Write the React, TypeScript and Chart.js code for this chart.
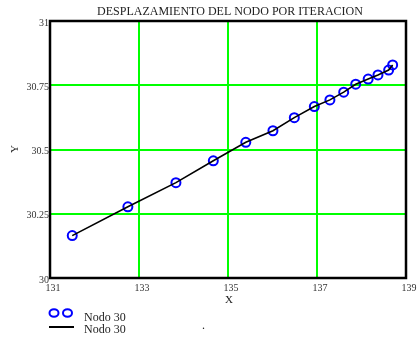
import React, { useEffect, useRef } from "react";
import { Chart, registerables } from "chart.js";

Chart.register(...registerables);

const chartTitle = "DESPLAZAMIENTO DEL NODO POR ITERACION";
const xAxisTitle = "X";
const yAxisTitle = "Y";
const seriesName = "Nodo 30";

const xValues = [131.5, 132.75, 133.83, 134.67, 135.4, 136.01, 136.49, 136.94, 137.29, 137.6, 137.87, 138.15, 138.37, 138.61, 138.7];
const yValues = [30.165, 30.277, 30.371, 30.456, 30.528, 30.573, 30.624, 30.667, 30.693, 30.723, 30.754, 30.774, 30.79, 30.809, 30.829];

const xTicks = [131, 133, 135, 137, 139];
const yTicks = [30, 30.25, 30.5, 30.75, 31];
const yTickLabels = ["30", "30.25", "30.5", "30.75", "31"];

const SERIF = "'Liberation Serif', 'Times New Roman', serif";

const extrasPlugin = {
  id: "extras",
  afterDraw(chart: any) {
    const ctx = chart.ctx as CanvasRenderingContext2D;
    const { left, right, top, bottom } = chart.chartArea;
    ctx.save();
    // plot border
    ctx.strokeStyle = "#000";
    ctx.lineWidth = 2.5;
    ctx.strokeRect(left, top, right - left, bottom - top);

    // title
    ctx.fillStyle = "#222";
    ctx.font = `12px ${SERIF}`;
    ctx.textAlign = "center";
    ctx.textBaseline = "alphabetic";
    ctx.fillText(chartTitle, 230, 15);

    // x axis title
    ctx.font = `11px ${SERIF}`;
    ctx.fillText(xAxisTitle, 229, 303);

    // y axis title
    ctx.save();
    ctx.translate(18, 149);
    ctx.rotate(-Math.PI / 2);
    ctx.textBaseline = "alphabetic";
    ctx.fillText(yAxisTitle, 0, 0);
    ctx.restore();

    // legend
    ctx.strokeStyle = "#0000ff";
    ctx.lineWidth = 2;
    [54, 67.5].forEach((cx) => {
      ctx.beginPath();
      ctx.ellipse(cx, 313, 4.5, 3.8, 0, 0, Math.PI * 2);
      ctx.stroke();
    });
    ctx.strokeStyle = "#000";
    ctx.lineWidth = 2;
    ctx.beginPath();
    ctx.moveTo(49, 327);
    ctx.lineTo(74, 327);
    ctx.stroke();

    ctx.fillStyle = "#222";
    ctx.font = `12px ${SERIF}`;
    ctx.textAlign = "left";
    ctx.fillText(seriesName, 84, 321);
    ctx.fillText(seriesName, 84, 333);
    ctx.fillText(".", 202, 329);
    ctx.restore();
  },
};

export default function App() {
  const ref = useRef<HTMLCanvasElement>(null);

  useEffect(() => {
    if (!ref.current) return;
    const points = xValues.map((x, i) => ({ x, y: yValues[i] }));
    const gridColor = (edges: number[]) => (c: any) =>
      c.tick && edges.includes(c.tick.value) ? "rgba(0,0,0,0)" : "#00ff00";

    const chart = new Chart(ref.current, {
      type: "scatter",
      data: {
        datasets: [
          {
            label: seriesName,
            data: points,
            showLine: true,
            borderColor: "#000",
            borderWidth: 1.6,
            pointRadius: 0,
            pointHoverRadius: 0,
          },
          {
            label: seriesName,
            data: points,
            showLine: false,
            pointRadius: 4.5,
            pointBorderWidth: 2,
            pointBorderColor: "#0000ff",
            pointBackgroundColor: "rgba(0,0,0,0)",
          },
        ],
      },
      plugins: [extrasPlugin],
      options: {
        animation: false,
        responsive: false,
        events: [],
        layout: { padding: { left: 0, right: 14, top: 21, bottom: 0 } },
        plugins: {
          legend: { display: false },
          title: { display: false },
          tooltip: { enabled: false },
        },
        scales: {
          x: {
            type: "linear",
            min: xTicks[0],
            max: xTicks[xTicks.length - 1],
            afterBuildTicks: (scale: any) => {
              scale.ticks = xTicks.map((v) => ({ value: v }));
            },
            afterFit: (scale: any) => {
              scale.height = 61;
            },
            grid: {
              color: gridColor([xTicks[0], xTicks[xTicks.length - 1]]),
              lineWidth: 2,
              drawTicks: false,
            },
            border: { display: false },
            ticks: {
              padding: 4,
              labelOffset: 3,
              color: "#333",
              font: { family: SERIF, size: 10 },
              maxRotation: 0,
              callback: (v: any) => String(v),
            },
          },
          y: {
            type: "linear",
            min: yTicks[0],
            max: yTicks[yTicks.length - 1],
            afterBuildTicks: (scale: any) => {
              scale.ticks = yTicks.map((v) => ({ value: v }));
            },
            afterFit: (scale: any) => {
              scale.width = 50;
            },
            grid: {
              color: gridColor([yTicks[0], yTicks[yTicks.length - 1]]),
              lineWidth: 2,
              drawTicks: false,
            },
            border: { display: false },
            ticks: {
              padding: 1,
              labelOffset: 2,
              color: "#333",
              font: { family: SERIF, size: 10 },
              callback: (v: any) => {
                const i = yTicks.indexOf(Number(v));
                return i >= 0 ? yTickLabels[i] : "";
              },
            },
          },
        },
      },
    });
    return () => chart.destroy();
  }, []);

  return (
    <div style={{ position: "absolute", left: 0, top: 0, width: 420, height: 339, background: "#fff" }}>
      <canvas ref={ref} width={420} height={339} style={{ display: "block" }} />
    </div>
  );
}
